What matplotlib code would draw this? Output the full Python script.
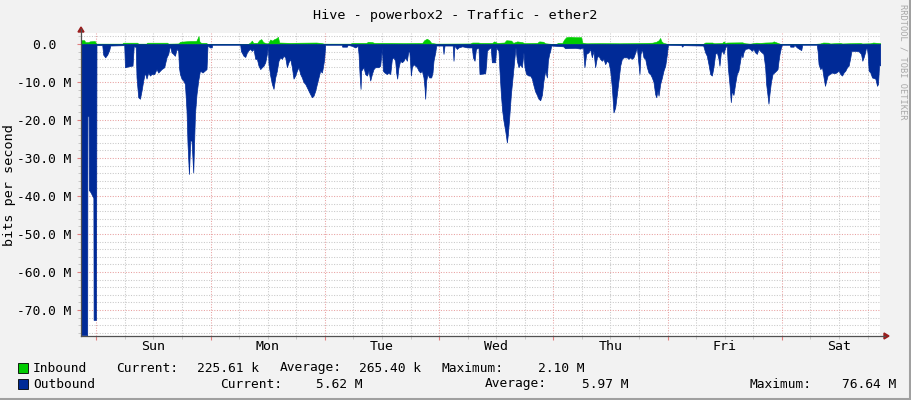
import numpy as np
import matplotlib.pyplot as plt
from matplotlib.lines import Line2D
from matplotlib.patches import Polygon, Rectangle

# hours relative to Sunday 00:00, values in Mbit/s
in_hours = [-3.2, -2.52, -2.31, -1.68, -1.37, -0.31, 0.0, 5.46, 5.67, 8.61,
            8.82, 10.5, 10.71, 14.91, 15.12, 17.22, 17.64, 19.74, 21.0, 21.31,
            21.48, 21.69, 22.05, 23.1, 23.31, 31.92, 32.34, 32.69, 32.97, 33.81,
            34.23, 34.65, 35.07, 35.7, 36.12, 36.54, 36.96, 37.38, 37.8, 38.16,
            38.43, 40.74, 42.84, 46.2, 47.04, 47.88, 53.34, 53.76, 56.7, 57.12,
            57.96, 58.38, 61.74, 64.68, 68.46, 68.88, 69.44, 69.93, 70.35, 71.4,
            78.54, 78.96, 80.22, 80.64, 83.16, 83.58, 84.21, 85.68, 86.1, 87.15,
            87.57, 88.41, 89.46, 89.88, 92.61, 93.03, 93.87, 94.29, 95.54, 96.6,
            97.02, 97.86, 98.28, 98.7, 99.54, 100.59, 101.85, 102.06, 102.9, 103.32,
            105.84, 110.04, 115.29, 116.76, 117.6, 118.13, 118.44, 118.65, 119.07, 119.91,
            127.47, 127.89, 129.36, 129.78, 131.46, 131.78, 132.09, 132.51, 135.66, 136.29,
            137.34, 138.6, 139.44, 140.49, 141.96, 142.26, 143.01, 143.64, 150.99, 152.04,
            152.67, 153.72, 154.14, 156.24, 156.66, 160.44, 160.86, 162.54, 163.17, 164.64]
in_mbit = [1.0, 1.0, 0.5, 0.5, 0.7, 0.8, 0.1, 0.1, 0.35, 0.35,
           0.1, 0.1, 0.35, 0.35, 0.1, 0.15, 0.6, 0.8, 0.8, 1.6,
           2.1, 0.6, 0.3, 0.3, 0.05, 0.05, 0.4, 0.9, 0.3, 0.3,
           1.0, 1.3, 0.5, 0.2, 0.2, 1.2, 0.9, 1.3, 1.5, 1.9,
           0.4, 0.3, 0.35, 0.4, 0.3, 0.1, 0.1, 0.3, 0.3, 0.6,
           0.5, 0.3, 0.3, 0.25, 0.3, 1.0, 1.4, 1.0, 0.3, 0.1,
           0.15, 0.4, 0.4, 0.3, 0.3, 0.7, 0.3, 0.4, 1.0, 0.9,
           0.3, 0.7, 0.5, 0.25, 0.3, 0.7, 0.6, 0.2, 0.05, 0.05,
           0.3, 0.3, 1.2, 1.8, 1.9, 1.8, 1.8, 0.4, 0.2, 0.2,
           0.25, 0.2, 0.3, 0.35, 0.6, 1.0, 1.6, 0.8, 0.3, 0.05,
           0.05, 0.4, 0.4, 0.2, 0.3, 0.7, 0.3, 0.4, 0.45, 0.2,
           0.1, 0.35, 0.3, 0.4, 0.45, 0.7, 0.35, 0.05, 0.05, 0.15,
           0.4, 0.35, 0.15, 0.3, 0.15, 0.3, 0.15, 0.2, 0.4, 0.23]

out_hours = [
    # sat evening / sun
    -3.2, -1.9, -1.85, -1.6, -1.55, -1.2, -0.6, -0.55, -0.05, 0.05,
    0.42, 1.26, 1.47, 1.89, 2.31, 2.73, 2.94, 5.88, 6.03, 7.41,
    7.62, 7.88, 8.29, 8.46, 8.82, 9.18, 9.51, 9.87, 10.23, 10.56,
    10.92, 11.28, 11.61, 12.18, 12.66, 13.02, 13.71, 14.28, 14.76, 15.12,
    15.48, 15.81, 16.17, 16.53, 16.86, 17.22, 17.37, 17.58, 17.91, 18.27,
    18.63, 18.96, 19.17, 19.47, 19.74, 20.01, 20.37, 20.73, 21.06, 21.42,
    21.78, 22.32, 23.16, 23.37, 23.87, 24.25, 24.36,
    # mon
    30.24, 30.38, 30.93, 31.29, 31.65, 31.98, 32.34, 32.69, 33.03, 33.39,
    33.74, 34.08, 34.44, 34.79, 35.13, 35.49, 35.84, 36.05, 36.18, 36.54,
    36.89, 37.23, 37.59, 37.94, 38.28, 38.64, 38.99, 39.33, 39.69, 40.04,
    40.38, 40.74, 41.09, 41.43, 41.79, 42.14, 42.48, 42.84, 43.19, 43.53,
    43.89, 44.24, 44.58, 44.94, 45.29, 45.63, 45.99, 46.34, 46.68, 47.04,
    47.39, 47.60, 47.88, 48.08, 51.55, 51.65, 52.64, 52.81,
    # tue
    53.76, 54.39, 54.92, 55.09, 55.30, 55.51, 55.65, 56.14, 56.49, 56.85,
    57.19, 57.54, 57.89, 58.23, 58.58, 59.28, 59.64, 59.99, 60.20, 60.54,
    61.04, 61.38, 61.74, 62.09, 62.43, 62.78, 62.99, 63.20, 63.48, 63.83,
    64.19, 64.53, 64.88, 65.24, 65.45, 65.72, 65.93, 66.08, 66.29, 66.63,
    66.98, 67.34, 67.68, 68.03, 68.39, 68.73, 68.94, 69.08, 69.29, 69.57,
    69.92, 70.34, 70.62, 70.83, 71.19, 71.40, 72.76, 72.93, 73.14, 74.86,
    75.03, 75.24, 75.74, 76.08, 76.86, 77.91, 78.90, 79.11, 79.45, 79.74,
    80.28, 80.49, 81.68,
    # wed / thu
    81.89, 82.04, 82.37, 82.84, 83.09, 83.78, 83.99, 84.48, 84.69, 84.98,
    85.25, 85.53, 85.89, 86.24, 86.45, 86.73, 87.08, 87.50, 87.84, 88.05,
    88.34, 88.68, 89.03, 89.39, 89.73, 89.94, 90.29, 90.78, 91.13, 91.49,
    91.83, 92.19, 92.54, 92.88, 93.24, 93.59, 93.93, 94.29, 94.64, 94.85,
    95.12, 95.33, 95.54, 98.06, 98.48, 100.58, 101.63, 102.26, 102.32, 102.53,
    102.89, 103.37, 103.73, 104.09, 104.42, 104.78, 105.14, 105.47, 105.83, 106.19,
    106.53, 106.88, 107.24, 107.58, 107.94, 108.29, 108.63, 108.99, 109.34, 109.68,
    110.04, 110.39, 110.73, 111.44, 111.78, 112.14, 112.49, 112.83, 113.19, 113.54,
    113.88, 114.09, 114.30, 114.60, 114.93, 115.29, 115.64, 115.98, 116.34, 116.69,
    117.03, 117.39, 117.60, 117.88, 118.09, 118.44, 118.80, 119.13, 119.49, 119.85,
    120.06,
    # fri / sat
    122.85, 123.06, 123.27, 127.47, 127.89, 128.23, 128.58, 128.94, 129.29, 129.62,
    129.98, 130.34, 130.68, 130.89, 131.18, 131.52, 131.73, 132.09, 132.43, 132.64,
    132.98, 133.27, 133.48, 133.82, 134.17, 134.53, 134.87, 135.22, 135.43, 135.71,
    135.92, 136.27, 136.97, 137.32, 137.67, 138.02, 138.38, 138.73, 139.07, 139.43,
    139.77, 140.12, 140.48, 140.69, 140.97, 141.18, 141.38, 141.68, 142.03, 142.38,
    142.80, 143.08, 143.29, 143.50, 143.80, 144.00, 145.64, 145.75, 146.44, 146.59,
    147.16, 147.64, 148.06, 148.27, 151.32, 151.49, 151.70, 152.06, 152.42, 152.75,
    153.05, 153.32, 153.60, 154.02, 154.52, 155.01, 155.43, 155.91, 156.27, 156.63,
    156.96, 157.32, 157.68, 158.01, 158.37, 158.58, 159.42, 160.11, 160.62, 160.89,
    161.16, 161.46, 161.67, 161.88, 162.00, 162.21, 162.57, 162.93, 163.62, 163.98,
    164.19, 164.40, 164.67]
out_mbit = [
    76.6, 76.6, 19.0, 19.0, 38.4, 39.0, 40.5, 72.6, 72.6, 0.3,
    0.3, 0.3, 2.8, 3.5, 2.8, 1.6, 0.4, 0.3, 6.1, 5.7,
    5.7, 0.5, 0.8, 8.8, 14.0, 14.4, 12.3, 9.6, 7.5, 9.1,
    7.5, 8.3, 7.9, 7.9, 6.6, 7.5, 6.6, 6.1, 3.5, 2.6,
    0.4, 2.2, 2.6, 3.1, 1.3, 1.8, 6.1, 7.9, 9.1, 9.6,
    10.5, 17.5, 26.3, 34.2, 25.4, 25.4, 33.8, 18.4, 13.2, 9.6,
    7.0, 7.5, 6.6, 0.3, 0.9, 0.9, 0.2,
    0.2, 1.8, 3.1, 3.4, 2.2, 1.6, 1.3, 1.8, 1.3, 3.9,
    3.9, 5.7, 6.6, 6.1, 5.7, 4.8, 2.6, 0.4, 5.3, 8.3,
    10.5, 11.8, 8.8, 7.0, 4.4, 3.5, 3.9, 3.1, 3.5, 6.1,
    4.8, 3.9, 6.1, 9.1, 8.3, 7.0, 6.1, 7.9, 8.8, 10.0,
    10.5, 11.4, 12.3, 13.2, 14.0, 13.6, 12.3, 10.5, 8.8, 7.0,
    7.5, 6.1, 3.9, 0.2, 0.2, 0.7, 0.7, 0.2,
    0.5, 0.9, 0.5, 2.6, 7.9, 11.8, 7.0, 6.1, 7.9, 8.3,
    7.0, 9.6, 7.9, 6.6, 6.1, 6.1, 5.7, 0.9, 7.0, 7.5,
    7.9, 7.5, 7.9, 3.9, 3.5, 4.4, 7.5, 9.1, 6.1, 4.4,
    4.8, 4.4, 3.5, 4.4, 2.6, 1.3, 5.3, 8.3, 6.1, 5.3,
    5.7, 6.1, 7.0, 7.5, 7.0, 8.8, 11.4, 14.4, 9.6, 7.9,
    8.8, 8.8, 7.5, 4.4, 2.2, 0.4, 0.4, 2.6, 0.4, 0.4,
    4.4, 0.4, 1.3, 0.9, 0.6, 0.9, 0.9, 3.5, 4.4, 1.3,
    0.9, 7.9, 7.7,
    5.3, 1.8, 1.3, 0.9, 4.8, 4.8, 0.9, 1.8, 7.0, 13.2,
    17.5, 20.2, 22.8, 25.9, 23.7, 19.3, 13.2, 7.9, 3.5, 0.9,
    4.4, 6.1, 5.3, 6.1, 2.2, 6.1, 7.9, 8.3, 8.3, 9.1,
    10.9, 12.5, 13.4, 14.4, 14.8, 13.4, 9.6, 7.0, 8.8, 4.4,
    2.6, 1.8, 0.4, 0.6, 1.1, 1.0, 1.2, 0.9, 2.6, 6.1,
    2.6, 2.2, 1.3, 3.5, 1.8, 6.1, 3.5, 3.1, 3.9, 4.4,
    3.9, 5.3, 4.4, 4.8, 7.0, 11.4, 18.0, 16.7, 13.2, 9.6,
    5.7, 3.9, 3.5, 3.5, 3.9, 3.5, 3.9, 3.5, 2.2, 0.9,
    5.3, 7.9, 2.6, 1.3, 3.5, 3.9, 6.1, 7.5, 7.9, 8.8,
    10.0, 13.2, 14.0, 12.3, 13.6, 10.5, 8.8, 7.0, 5.7, 2.6,
    0.2,
    0.3, 0.7, 0.3, 0.4, 2.2, 3.1, 5.3, 7.9, 8.3, 6.1,
    2.6, 2.2, 3.9, 5.7, 2.2, 1.8, 2.6, 0.9, 0.4, 6.1,
    10.5, 15.3, 12.3, 13.4, 10.5, 7.9, 7.0, 4.4, 2.6, 3.5,
    2.2, 1.3, 1.1, 1.3, 1.8, 1.3, 2.2, 2.6, 1.3, 1.8,
    2.2, 2.6, 6.1, 10.5, 13.4, 15.7, 13.2, 10.1, 7.9, 7.5,
    7.0, 6.6, 4.4, 2.6, 0.9, 0.2, 0.2, 0.7, 0.7, 0.2,
    0.9, 1.3, 1.6, 0.2, 0.2, 1.8, 5.3, 6.6, 6.1, 8.8,
    11.0, 9.6, 8.3, 7.9, 7.5, 7.7, 7.5, 7.0, 7.9, 8.3,
    7.5, 7.0, 6.1, 5.7, 3.5, 1.8, 1.8, 1.9, 2.6, 4.4,
    3.5, 2.2, 0.9, 1.3, 2.6, 7.0, 7.5, 8.8, 9.1, 11.0,
    10.5, 5.6, 5.6]

day_names = ["Sun", "Mon", "Tue", "Wed", "Thu", "Fri", "Sat"]
in_stats = ["225.61 k", "265.40 k", "2.10 M"]
out_stats = ["5.62 M", "5.97 M", "76.64 M"]

W, H = 911, 400
BG = "#F2F2F2"
GREEN = "#00CC00"
BLUE = "#002A97"
MONO = "DejaVu Sans Mono"


def fx(px):
    return px / W


def fy(py):
    return 1 - py / H


fig = plt.figure(figsize=(W / 100, H / 100), dpi=100)
fig.patch.set_facecolor(BG)

ax = fig.add_axes([fx(81), fy(336), (880 - 81) / W, (336 - 33) / H])
ax.set_facecolor("white")
ax.set_xlim(-3.2, 164.6)
ax.set_ylim(-76.84, 2.9)

ax.fill_between(in_hours, 0, in_mbit, color=GREEN, lw=0.4, zorder=3)
ax.fill_between(out_hours, 0, -np.array(out_mbit), color=BLUE, lw=0.5, zorder=3)

# grid
ax.set_yticks(np.arange(-70, 1, 10))
ax.set_yticks(np.arange(-76, 3, 2), minor=True)
ax.set_yticklabels(["0.0  " if v == 0 else f"{v:.1f} M" for v in np.arange(-70, 1, 10)],
                   family=MONO, fontsize=9.3)
ax.set_xticks(np.arange(0, 165, 24))
ax.set_xticks(np.arange(-0, 165, 6), minor=True)
ax.set_xticklabels([])
ax.grid(which="major", color="#E8A0A0", ls=(0, (1, 1.5)), lw=0.75)
ax.grid(which="minor", color="#C8C8C8", ls=(0, (1, 1.5)), lw=0.75)
ax.set_axisbelow(True)
ax.tick_params(which="major", length=3, color="#E08080", pad=4)
ax.tick_params(which="minor", length=2, color="#C0C0C0")

for i, d in enumerate(day_names):
    ax.text(12 + 24 * i, -0.035, d, transform=ax.get_xaxis_transform(),
            ha="center", va="center", family=MONO, fontsize=9.5)

for s in ax.spines.values():
    s.set_visible(False)

# axes with arrows
fig.add_artist(Line2D([fx(81), fx(81)], [fy(336), fy(29)], color="#505050", lw=0.9))
fig.add_artist(Line2D([fx(81), fx(885)], [fy(336), fy(336)], color="#505050", lw=0.9))
fig.add_artist(Polygon([(fx(78), fy(32)), (fx(84), fy(32)), (fx(81), fy(27))],
                       closed=True, color="#9A1C1C"))
fig.add_artist(Polygon([(fx(884), fy(333)), (fx(884), fy(339)), (fx(889), fy(336))],
                       closed=True, color="#9A1C1C"))

# texts
fig.text(fx(455), fy(15), "Hive - powerbox2 - Traffic - ether2", ha="center", va="center",
         family=MONO, fontsize=9.7)
fig.text(fx(10), fy(185), "bits per second", rotation=90, ha="center", va="center",
         family=MONO, fontsize=9.7)
fig.text(fx(903), fy(4), "RRDTOOL / TOBI OETIKER", rotation=270, ha="center", va="top",
         family=MONO, fontsize=6.2, color="#A8A8A8")

# legend
fig.add_artist(Rectangle((fx(18), fy(373)), 10 / W, 10 / H, facecolor=GREEN,
                         edgecolor="black", lw=0.6))
fig.add_artist(Rectangle((fx(18), fy(389)), 10 / W, 10 / H, facecolor=BLUE,
                         edgecolor="black", lw=0.6))
row1, row2 = fy(368), fy(384)
kw = dict(va="center", family=MONO, fontsize=9.3)
fig.text(fx(33), row1, "Inbound", **kw)
fig.text(fx(116), row1, "Current:", **kw)
fig.text(fx(259), row1, in_stats[0], ha="right", **kw)
fig.text(fx(280), row1, "Average:", **kw)
fig.text(fx(421), row1, in_stats[1], ha="right", **kw)
fig.text(fx(442), row1, "Maximum:", **kw)
fig.text(fx(584), row1, in_stats[2], ha="right", **kw)
fig.text(fx(33), row2, "Outbound", **kw)
fig.text(fx(220), row2, "Current:", **kw)
fig.text(fx(363), row2, out_stats[0], ha="right", **kw)
fig.text(fx(485), row2, "Average:", **kw)
fig.text(fx(628), row2, out_stats[1], ha="right", **kw)
fig.text(fx(750), row2, "Maximum:", **kw)
fig.text(fx(896), row2, out_stats[2], ha="right", **kw)

# frame
fig.add_artist(Line2D([0, 1], [fy(399), fy(399)], color="#A0A0A0", lw=2.2))
fig.add_artist(Line2D([fx(909.5), fx(909.5)], [0, 1], color="#A0A0A0", lw=2.2))

fig.savefig("out.png", dpi=100, facecolor=BG)
